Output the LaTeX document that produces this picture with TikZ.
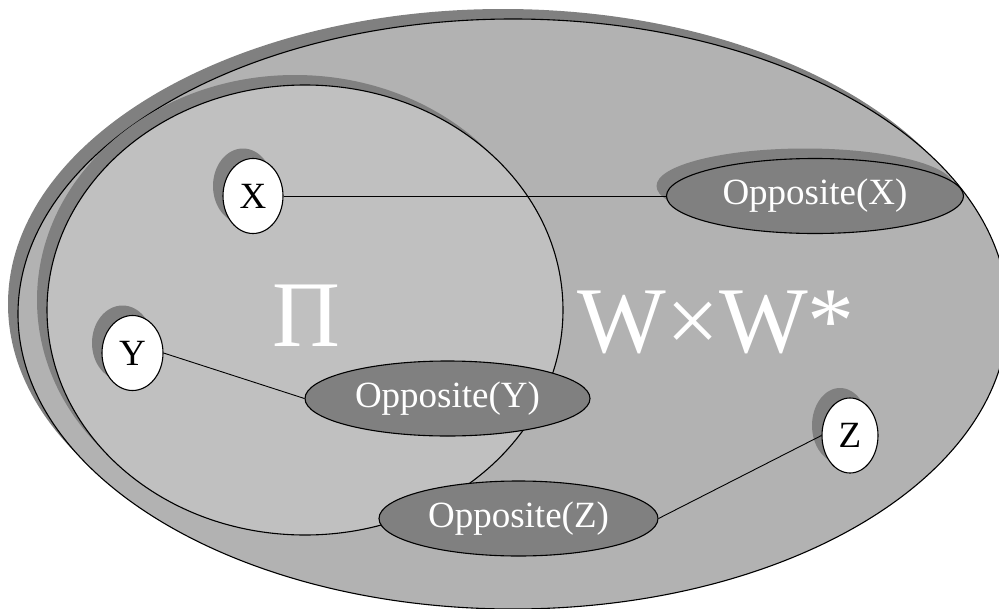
\documentclass[tikz,border=0pt]{standalone}
\usepackage{fontspec}
\setmainfont{Liberation Serif}
\usetikzlibrary{shapes.geometric,shadows}

\definecolor{outerfill}{HTML}{B2B2B2}
\definecolor{innerfill}{HTML}{C0C0C0}
\definecolor{shadegray}{HTML}{808080}

\tikzset{
  blob/.style={ellipse, inner sep=0pt, draw=black, line width=1.1pt},
  castshadow/.style={general shadow={fill=shadegray, draw=none,
      shadow xshift=-10pt, shadow yshift=10pt}},
  pointnode/.style={blob, fill=white, castshadow, text=black,
      font=\fontsize{37}{40}\selectfont, minimum height=75pt},
  oppnode/.style={blob, fill=shadegray, text=white,
      font=\fontsize{37}{40}\selectfont, minimum height=75pt},
  biglabel/.style={text=white, font=\fontsize{94}{100}\selectfont,
      inner sep=0pt, anchor=base},
  link/.style={draw=black, line width=0.9pt}
}

\begin{document}
\begin{tikzpicture}[x=1pt,y=-1pt]
  \useasboundingbox (0,0) rectangle (999,608);
  \clip (0,0) rectangle (999,608);

  % the whole space W x W*
  \node[blob, fill=outerfill, castshadow,
        minimum width=990pt, minimum height=590pt] (space) at (513,314) {};
  % the subset Pi
  \node[blob, fill=innerfill, castshadow,
        minimum width=516pt, minimum height=450pt] (piset) at (305,310) {};

  \node[biglabel] (pilabel) at (306,346) {Π};
  \node[biglabel] (wlabel) at (716,352) {W×W*};

  % points and their opposites
  \node[pointnode, minimum width=60pt] (x) at (253,196) {X};
  \node[oppnode, castshadow, minimum width=297pt] (ox) at (815,196) {Opposite(X)};

  \node[pointnode, minimum width=61pt] (y) at (132.5,353) {Y};
  \node[oppnode, minimum width=285pt] (oy) at (447.5,398.5) {Opposite(Y)};

  \node[pointnode, minimum width=56pt] (z) at (850,435.5) {Z};
  \node[oppnode, minimum width=279pt] (oz) at (518.5,518.5) {Opposite(Z)};

  \draw[link] (x.east) -- (ox.west);
  \draw[link] (y.east) -- (oy.west);
  \draw[link] (z.west) -- (oz.east);
\end{tikzpicture}
\end{document}
